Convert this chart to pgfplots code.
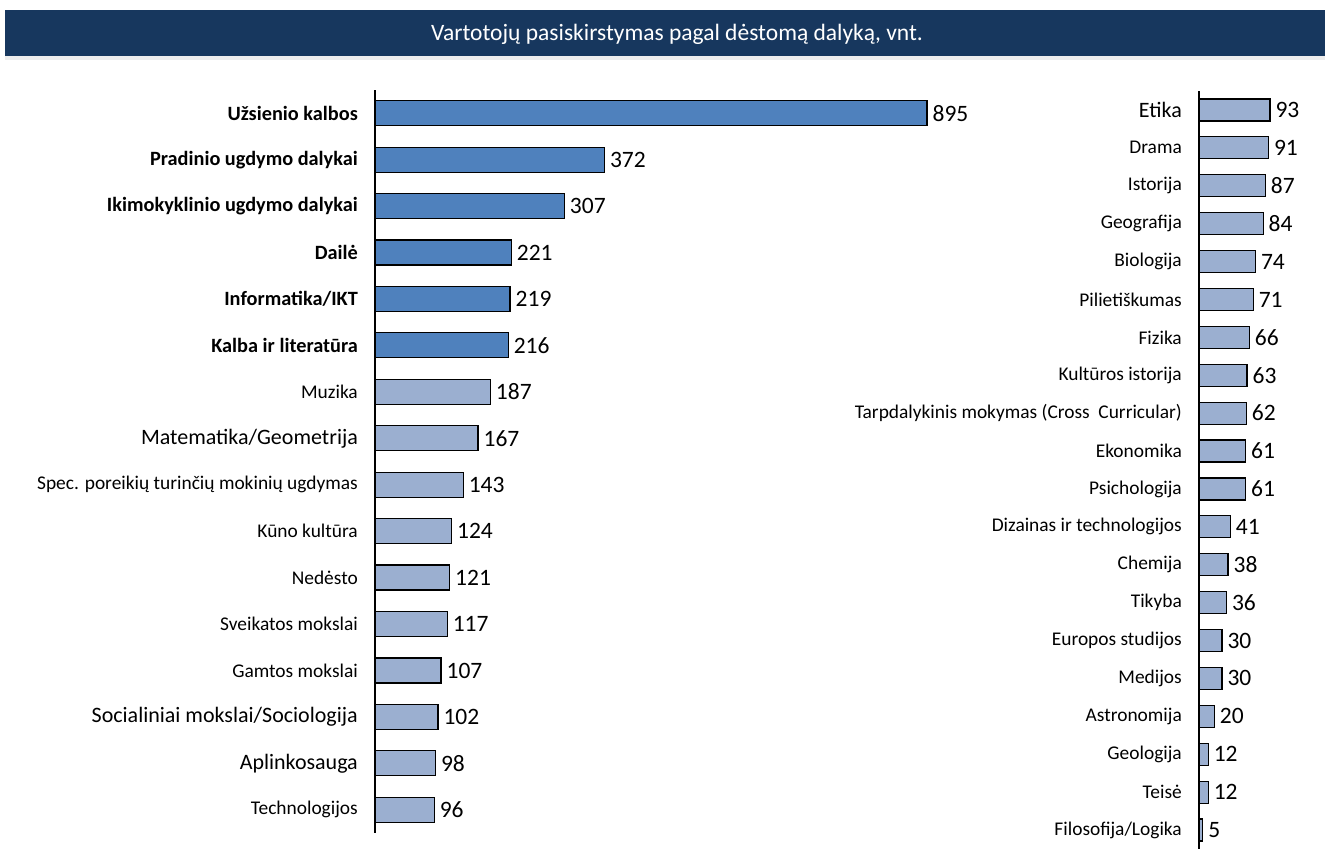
\documentclass[border=0pt]{standalone}
\usepackage{pgfplots}
\pgfplotsset{compat=1.18}
\usepackage{fontspec}
\setmainfont{Carlito}
\definecolor{navy}{HTML}{17375E}
\definecolor{darkbar}{HTML}{4F81BD}
\definecolor{lightbar}{HTML}{9BAFD0}
\newcommand{\lab}{\fontsize{19.4}{21}\selectfont}
\newcommand{\biglab}{\fontsize{22}{24}\selectfont}
\newcommand{\bflab}{\fontsize{20.3}{22}\selectfont\bfseries}
\newcommand{\val}{\fontsize{23.5}{26}\selectfont}
\pgfplotsset{mybars/.style={
  scale only axis, xmin=0, xbar, bar shift=0pt,
  enlargelimits=false,
  axis x line=none, axis y line=left, axis line style={-, line width=1.2pt, black},
  major tick length=0pt,
  yticklabel style={font=\lab, anchor=east, inner sep=0pt, xshift=-17pt},
  nodes near coords, nodes near coords align={horizontal},
  every node near coord/.append style={font=\val, anchor=west, inner sep=0pt, xshift=5pt, text=black},
  /pgf/number format/assume math mode=true,
  every axis plot/.append style={draw=black, line width=1.2pt},
  clip=false,
}}
\begin{document}
\begin{tikzpicture}
\useasboundingbox (0pt,0pt) rectangle (1325pt,861pt);
\fill[black!7] (5pt,801pt) rectangle (1325pt,805pt);
\fill[navy] (5pt,805pt) rectangle (1325pt,851pt);
\node[text=white, font=\fontsize{23.5}{26}\selectfont] at (677pt,827pt) {Vartotojų pasiskirstymas pagal dėstomą dalyką, vnt.};
\begin{axis}[mybars, at={(375pt,28pt)}, anchor=south west,
  width=616.8pt, height=743pt, xmax=1000, ymin=-0.5, ymax=15.5,
  bar width=25pt,
  ytick={0,...,15},
  yticklabels={Technologijos,{\biglab Aplinkosauga},{\biglab Socialiniai mokslai/Sociologija},Gamtos mokslai,Sveikatos mokslai,Nedėsto,Kūno kultūra,Spec. poreikių turinčių mokinių ugdymas,{\biglab Matematika/Geometrija},Muzika,{\bflab Kalba ir literatūra},{\bflab Informatika/IKT},{\bflab Dailė},{\bflab Ikimokyklinio ugdymo dalykai},{\bflab Pradinio ugdymo dalykai},{\bflab Užsienio kalbos}},
]
\addplot[fill=darkbar] coordinates {(895,15) (372,14) (307,13) (221,12) (219,11) (216,10)};
\addplot[fill=lightbar] coordinates {(187,9) (167,8) (143,7) (124,6) (121,5) (117,4) (107,3) (102,2) (98,1) (96,0)};
\end{axis}
\begin{axis}[mybars, at={(1199pt,12pt)}, anchor=south west,
  width=76.3pt, height=758pt, xmax=100, ymin=-0.5, ymax=19.5,
  bar width=22pt,
  ytick={0,...,19},
  yticklabels={Filosofija/Logika,Teisė,Geologija,Astronomija,Medijos,Europos studijos,Tikyba,Chemija,Dizainas ir technologijos,Psichologija,Ekonomika,Tarpdalykinis mokymas (Cross\ \ Curricular),Kultūros istorija,Fizika,Pilietiškumas,Biologija,Geografija,Istorija,Drama,{\biglab Etika}},
]
\addplot[fill=lightbar] coordinates {(93,19) (91,18) (87,17) (84,16) (74,15) (71,14) (66,13) (63,12) (62,11) (61,10) (61,9) (41,8) (38,7) (36,6) (30,5) (30,4) (20,3) (12,2) (12,1) (5,0)};
\end{axis}
\end{tikzpicture}
\end{document}
